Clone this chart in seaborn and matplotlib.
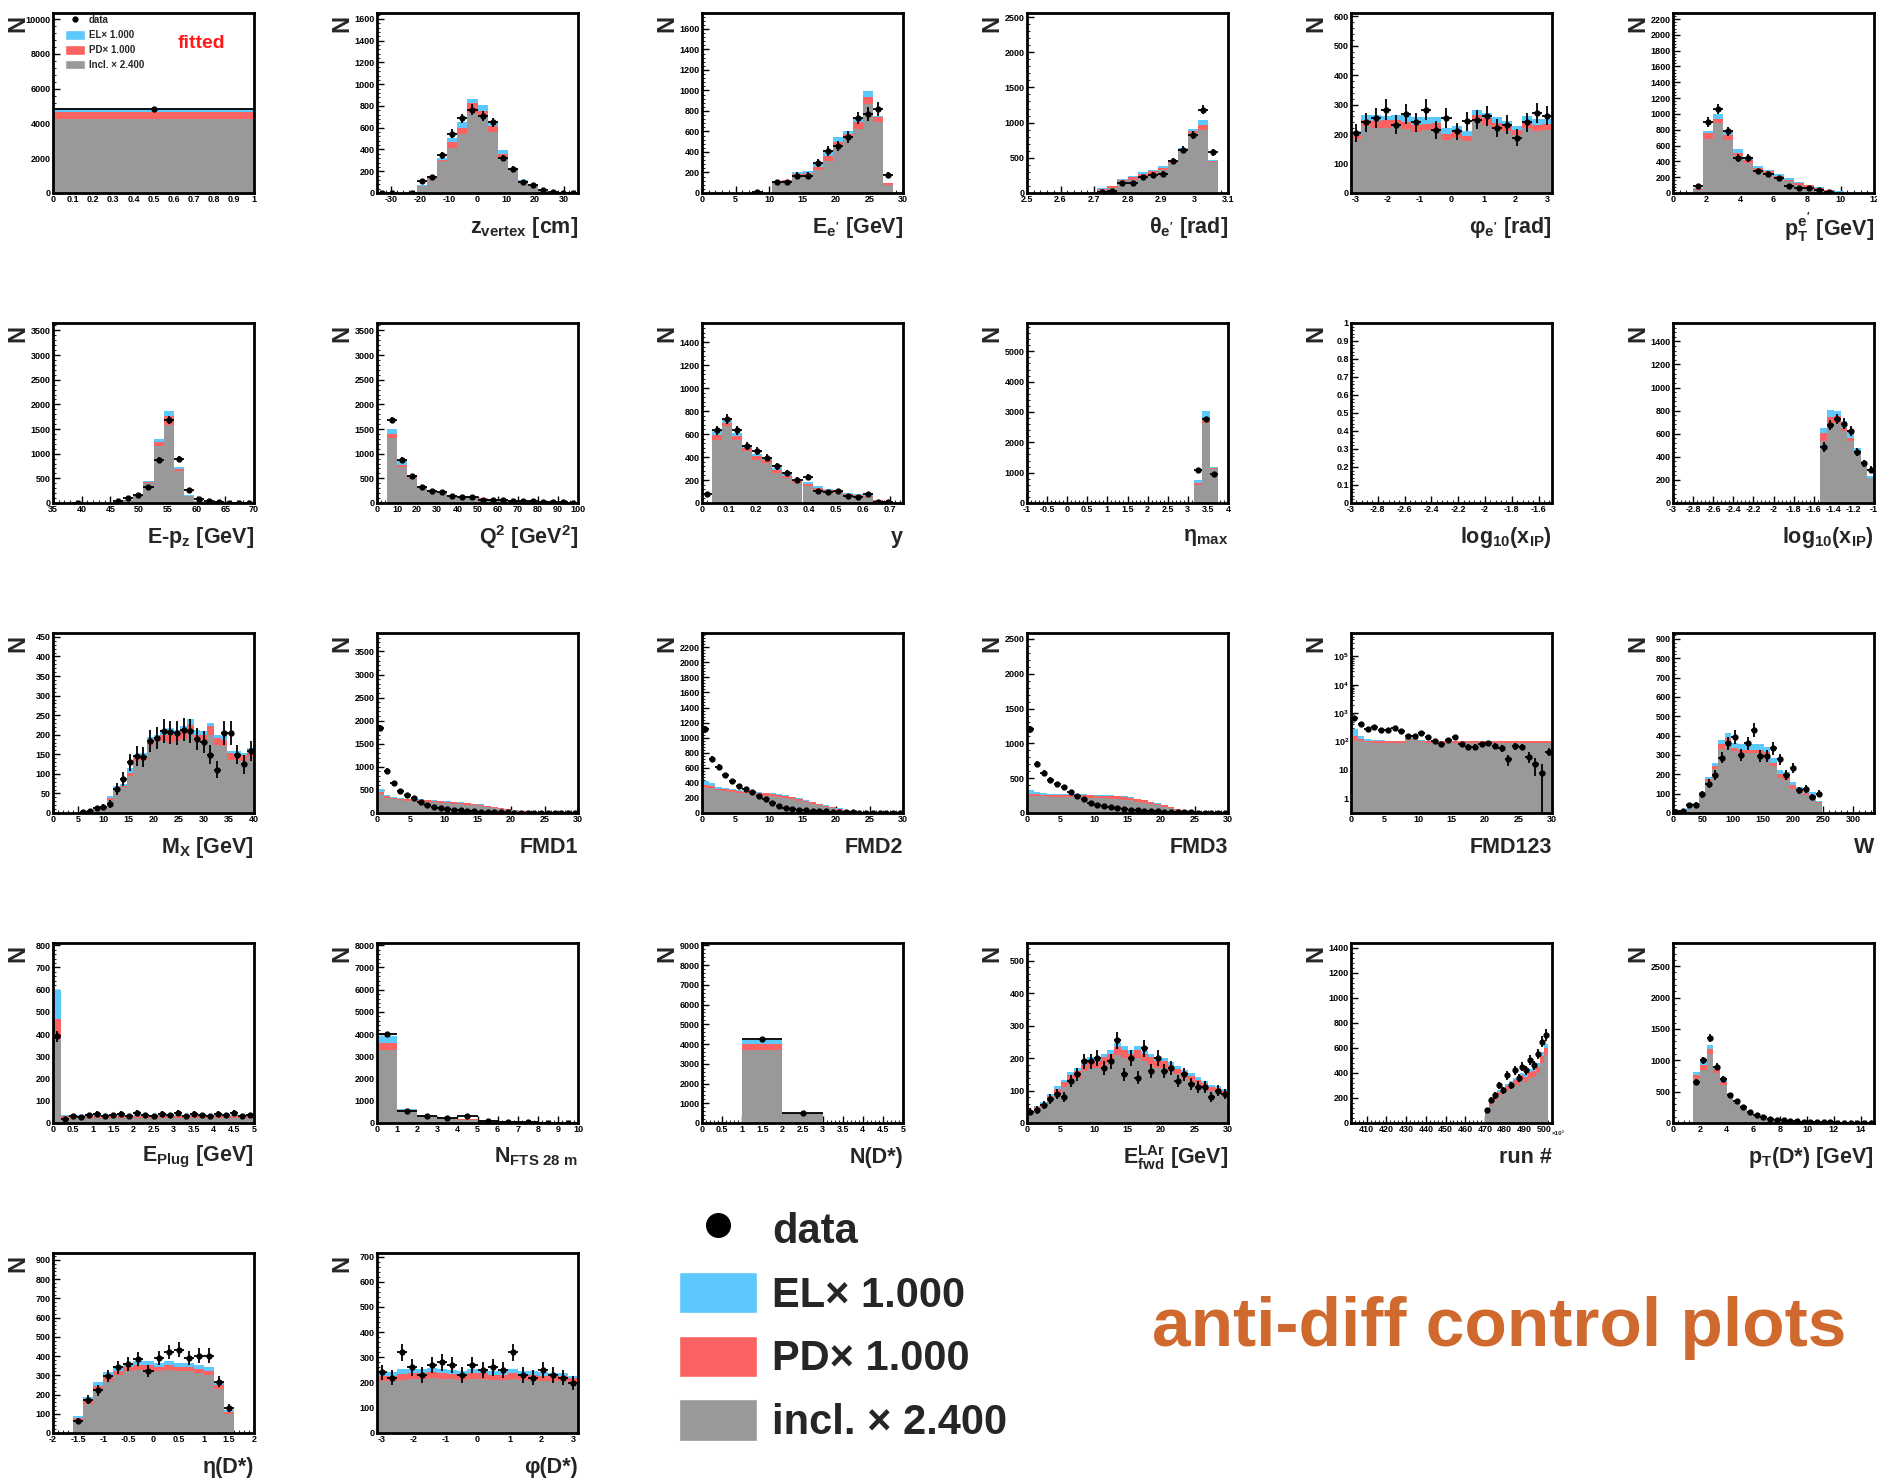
import numpy as np
import pandas as pd
import matplotlib
matplotlib.use("Agg")
import matplotlib.pyplot as plt
from matplotlib.ticker import MultipleLocator, AutoMinorLocator, FuncFormatter, LogLocator
from matplotlib.patches import Patch
from matplotlib.lines import Line2D
import seaborn as sns

# ---------------- data ----------------
# fitted normalisation (single bin)
fit_incl = [4250]
fit_pd = [390]
fit_el = [245]
fit_data = [4830]
fit_err = [70]

zvtx_incl = [0, 0, 0, 0, 60, 130, 292, 414, 543, 737, 706, 559, 322, 209, 107, 61, 25, 8, 2, 0]
zvtx_pd = [0, 0, 0, 0, 5, 5, 15, 53, 56, 86, 52, 55, 40, 12, 7, 5, 3, 1, 0, 0]
zvtx_el = [0, 0, 0, 0, 12, 5, 15, 39, 55, 43, 52, 46, 37, 9, 9, 11, 2, 1, 0, 0]
zvtx_data = [3, 2, 0, 2, 107, 147, 347, 546, 685, 767, 706, 651, 322, 221, 98, 71, 25, 6, 2, 1]
zvtx_err = [3, 2, 0, 2, 20, 22, 32, 40, 45, 48, 45, 42, 30, 25, 18, 15, 9, 4, 2, 2]

ee_incl = [0, 0, 0, 0, 0, 0, 0, 98, 114, 179, 185, 221, 315, 455, 536, 624, 871, 689, 78, 0]
ee_pd = [0, 0, 0, 0, 0, 0, 0, 6, 8, 10, 13, 32, 49, 42, 39, 65, 65, 52, 20, 0]
ee_el = [0, 0, 0, 0, 0, 0, 0, 10, 8, 13, 13, 33, 49, 46, 33, 42, 62, 13, 0, 0]
ee_data = [0, 0, 0, 0, 0, 5, 0, 104, 104, 169, 169, 293, 406, 455, 546, 731, 770, 819, 179, 0]
ee_err = [0, 0, 0, 0, 0, 5, 0, 25, 25, 32, 32, 40, 48, 50, 55, 62, 65, 65, 30, 0]

the_incl = [0, 0, 0, 0, 0, 0, 9, 38, 71, 166, 189, 237, 275, 322, 426, 592, 852, 900, 440, 0]
the_pd = [0, 0, 0, 0, 0, 0, 5, 24, 24, 23, 34, 38, 33, 33, 24, 24, 33, 71, 19, 0]
the_el = [0, 0, 0, 0, 0, 0, 2, 10, 9, 10, 14, 23, 23, 24, 24, 23, 24, 61, 15, 0]
the_data = [0, 0, 0, 0, 0, 0, 0, 14, 33, 142, 142, 223, 260, 275, 450, 616, 829, 1184, 582, 0]
the_err = [0, 0, 0, 0, 0, 0, 0, 10, 15, 30, 30, 35, 40, 40, 45, 50, 55, 65, 50, 0]

phie_incl = [183, 229, 221, 221, 226, 217, 207, 215, 217, 181, 187, 175, 243, 232, 217, 211, 198, 221, 209, 215]
phie_pd = [15, 20, 22, 28, 23, 23, 25, 20, 21, 19, 19, 17, 23, 23, 21, 21, 17, 22, 23, 20]
phie_el = [11, 17, 23, 14, 17, 26, 26, 23, 20, 21, 20, 17, 15, 17, 20, 11, 13, 17, 19, 16]
phie_data = [204, 240, 255, 283, 232, 269, 240, 283, 213, 255, 209, 243, 249, 263, 221, 232, 187, 240, 272, 263]
phie_err = [30, 32, 33, 35, 32, 34, 32, 35, 30, 33, 30, 32, 33, 34, 31, 32, 29, 32, 34, 33]

pte_incl = [0, 0, 40, 684, 886, 675, 464, 380, 287, 245, 198, 148, 105, 76, 51, 25, 13, 0, 0, 0]
pte_pd = [0, 0, 15, 76, 51, 64, 42, 42, 30, 29, 21, 21, 22, 21, 16, 9, 4, 0, 0, 0]
pte_el = [0, 0, 5, 29, 63, 29, 51, 34, 29, 21, 26, 21, 12, 8, 9, 8, 4, 0, 0, 0]
pte_data = [0, 0, 84, 895, 1063, 781, 443, 443, 274, 245, 190, 93, 63, 59, 34, 13, 0, 0, 0, 0]
pte_err = [0, 0, 20, 60, 65, 55, 45, 45, 35, 30, 30, 20, 15, 15, 12, 8, 0, 0, 0, 0]

epz_incl = [0, 0, 0, 0, 0, 0, 20, 54, 135, 406, 1149, 1589, 642, 135, 34, 10, 0, 0, 0, 0]
epz_pd = [0, 0, 0, 0, 0, 0, 3, 7, 14, 20, 81, 182, 48, 14, 4, 0, 0, 0, 0, 0]
epz_el = [0, 0, 0, 0, 0, 0, 2, 5, 6, 13, 68, 88, 40, 6, 2, 0, 0, 0, 0, 0]
epz_data = [0, 0, 3, 0, 0, 0, 34, 101, 169, 324, 865, 1690, 892, 270, 88, 34, 14, 3, 2, 2]
epz_err = [0, 0, 3, 0, 0, 0, 15, 25, 35, 40, 60, 80, 60, 35, 20, 15, 10, 3, 2, 2]

q2_incl = [0, 1318, 723, 507, 318, 237, 203, 155, 135, 115, 88, 74, 61, 54, 47, 40, 34, 27, 20, 15]
q2_pd = [0, 88, 54, 34, 14, 14, 10, 7, 7, 10, 7, 7, 6, 5, 5, 5, 4, 4, 3, 3]
q2_el = [0, 95, 81, 20, 14, 13, 10, 7, 7, 10, 6, 7, 6, 5, 5, 5, 4, 3, 3, 2]
q2_data = [0, 1690, 879, 541, 324, 250, 223, 149, 122, 115, 68, 68, 54, 34, 34, 40, 27, 20, 15, 10]
q2_err = [0, 60, 45, 35, 25, 20, 20, 15, 15, 15, 12, 12, 10, 10, 10, 10, 8, 8, 6, 5]

yv_incl = [0, 551, 667, 545, 450, 377, 348, 261, 218, 174, 151, 116, 102, 87, 67, 58, 49, 20, 0, 0]
yv_pd = [0, 44, 29, 35, 29, 29, 29, 29, 20, 15, 17, 15, 11, 12, 11, 12, 9, 5, 0, 0]
yv_el = [0, 29, 35, 29, 29, 20, 15, 15, 14, 8, 12, 14, 9, 8, 9, 8, 9, 4, 0, 0]
yv_data = [78, 632, 731, 632, 493, 450, 392, 319, 261, 203, 223, 102, 96, 102, 64, 52, 78, 6, 6, 0]
yv_err = [20, 40, 45, 40, 35, 35, 30, 30, 25, 25, 25, 18, 18, 18, 15, 12, 15, 5, 5, 0]

etamax_incl = [604, 2637, 1121]
etamax_pd = [55, 165, 33]
etamax_el = [88, 220, 33]
etamax_data = [1099, 2769, 967]
etamax_err = [40, 70, 40]

xip_incl = [534, 678, 693, 620, 534, 433, 318, 217]
xip_pd = [72, 67, 58, 30, 29, 14, 14, 0]
xip_el = [44, 58, 43, 57, 58, 29, 29, 14]
xip_data = [485, 673, 730, 687, 621, 439, 346, 289]
xip_err = [40, 45, 45, 45, 45, 35, 30, 30]

mx_incl = [0, 0, 0, 0, 0, 0, 7, 10, 34, 60, 66, 94, 132, 136, 175, 183, 183, 179, 183, 189,
           206, 183, 187, 200, 175, 170, 136, 136, 132, 145]
mx_pd = [0, 0, 0, 0, 0, 1, 1, 2, 4, 4, 4, 8, 9, 9, 12, 9, 17, 25, 17, 20,
         20, 17, 13, 22, 17, 17, 17, 13, 15, 8]
mx_el = [0, 0, 0, 0, 0, 0, 1, 1, 5, 4, 5, 13, 8, 8, 7, 8, 13, 13, 13, 13,
         15, 13, 9, 8, 8, 9, 5, 10, 6, 13]
mx_data = [0, 0, 0, 0, 3, 4, 13, 15, 23, 61, 87, 130, 145, 143, 183, 192, 209, 206, 204, 213,
           210, 189, 181, 149, 111, 204, 204, 149, 124, 158]
mx_err = [0, 0, 0, 0, 3, 3, 6, 7, 9, 15, 18, 22, 25, 25, 28, 28, 30, 30, 30, 30,
          30, 28, 28, 25, 22, 30, 30, 25, 24, 26]

fmd1_incl = [420, 330, 300, 280, 270, 260, 250, 240, 230, 220, 210, 200, 190, 180, 165,
             150, 130, 110, 90, 70, 55, 40, 30, 20, 12, 8, 5, 3, 2, 1]
fmd1_pd = [40, 30, 30, 30, 30, 30, 35, 35, 35, 35, 35, 35, 35, 35, 30,
           30, 25, 20, 18, 15, 12, 10, 8, 5, 3, 2, 1, 1, 0, 0]
fmd1_el = [60, 30, 15, 15, 12, 12, 12, 12, 10, 10, 10, 10, 10, 8, 8,
           8, 6, 6, 5, 4, 3, 3, 2, 2, 1, 1, 0, 0, 0, 0]
fmd1_data = [1850, 920, 640, 480, 400, 320, 240, 180, 140, 110, 90, 70, 55, 45, 35,
             30, 25, 20, 15, 12, 10, 8, 6, 5, 4, 3, 2, 2, 1, 1]
fmd1_err = [60, 45, 35, 30, 28, 25, 22, 18, 16, 14, 13, 11, 10, 9, 8,
            7, 7, 6, 5, 5, 4, 4, 3, 3, 2, 2, 2, 2, 1, 1]

fmd2_incl = [330, 330, 300, 290, 280, 270, 260, 250, 240, 230, 220, 210, 200, 180, 160,
             140, 120, 100, 80, 60, 45, 30, 20, 12, 8, 5, 3, 2, 1, 1]
fmd2_pd = [40, 30, 25, 25, 25, 25, 25, 25, 30, 30, 30, 30, 30, 30, 30,
           25, 25, 20, 18, 15, 12, 10, 8, 5, 3, 2, 1, 1, 0, 0]
fmd2_el = [60, 40, 20, 15, 15, 12, 12, 12, 10, 10, 10, 10, 10, 8, 8,
           8, 6, 6, 5, 4, 3, 3, 2, 2, 1, 1, 0, 0, 0, 0]
fmd2_data = [1110, 720, 610, 500, 420, 360, 320, 280, 230, 180, 130, 90, 65, 50, 40,
             35, 30, 25, 20, 15, 12, 10, 8, 6, 5, 4, 3, 2, 2, 1]
fmd2_err = [50, 40, 35, 30, 28, 26, 24, 22, 20, 18, 15, 12, 10, 9, 8,
            8, 7, 6, 5, 5, 4, 4, 3, 3, 2, 2, 2, 2, 1, 1]

fmd3_incl = [250, 250, 240, 230, 230, 230, 230, 230, 225, 220, 215, 210, 205, 200, 190,
             180, 165, 150, 130, 110, 90, 70, 50, 35, 20, 12, 6, 3, 1, 0]
fmd3_pd = [30, 25, 25, 25, 25, 30, 30, 30, 35, 35, 35, 40, 40, 40, 40,
           35, 35, 30, 28, 25, 20, 18, 12, 8, 5, 3, 2, 1, 0, 0]
fmd3_el = [50, 30, 20, 15, 15, 12, 12, 12, 10, 10, 10, 10, 10, 8, 8,
           8, 6, 6, 5, 4, 3, 3, 2, 2, 1, 1, 0, 0, 0, 0]
fmd3_data = [1200, 700, 580, 480, 420, 380, 300, 240, 200, 150, 120, 100, 80, 65, 55,
             45, 40, 35, 30, 25, 20, 15, 12, 10, 8, 6, 5, 4, 3, 2]
fmd3_err = [55, 40, 35, 30, 28, 27, 24, 22, 20, 17, 15, 14, 12, 11, 10,
            9, 8, 8, 7, 6, 6, 5, 4, 4, 4, 3, 3, 2, 2, 2]

fmd123_incl = [110, 100, 95, 92, 92, 90, 90, 90, 120, 115, 95, 92, 92, 90, 90,
               90, 88, 88, 88, 88, 88, 86, 86, 86, 86, 86, 86, 86, 86, 86]
fmd123_pd = [40, 20, 12, 12, 10, 10, 10, 10, 10, 10, 10, 10, 10, 10, 10,
             10, 12, 12, 12, 14, 15, 15, 15, 16, 16, 16, 16, 16, 17, 17]
fmd123_el = [120, 40, 12, 10, 8, 6, 6, 5, 5, 5, 5, 5, 5, 5, 5,
             4, 4, 4, 4, 4, 4, 4, 4, 4, 4, 4, 4, 4, 4, 4]
fmd123_data = [700, 410, 270, 330, 250, 250, 290, 225, 150, 160, 200, 140, 105, 80, 110,
               145, 80, 65, 65, 80, 85, 70, 58, 24, 68, 65, 29, 16, 8, 44]
fmd123_err = [60, 45, 35, 38, 33, 33, 35, 30, 25, 25, 30, 25, 20, 18, 22,
              25, 18, 16, 16, 18, 18, 17, 15, 10, 17, 16, 12, 10, 8, 14]

wv_incl = [0, 0, 20, 40, 95, 165, 230, 330, 363, 320, 308, 308, 310, 308, 299, 242,
           183, 173, 126, 109, 92, 83, 50, 0, 0, 0, 0, 0, 0, 0, 0]
wv_pd = [0, 0, 3, 5, 8, 12, 15, 25, 26, 17, 17, 17, 17, 17, 18, 18,
         18, 17, 18, 12, 12, 9, 5, 0, 0, 0, 0, 0, 0, 0, 0]
wv_el = [0, 0, 5, 5, 7, 10, 12, 25, 23, 26, 31, 31, 29, 31, 26, 22,
         20, 23, 17, 14, 14, 17, 5, 0, 0, 0, 0, 0, 0, 0, 0]
wv_data = [5, 10, 40, 43, 97, 152, 196, 287, 360, 394, 299, 360, 429, 294, 294, 334,
           277, 196, 234, 118, 126, 83, 100, 0, 0, 0, 0, 0, 0, 0, 0]
wv_err = [4, 6, 12, 12, 18, 22, 25, 30, 34, 35, 30, 34, 37, 30, 30, 32,
          29, 25, 27, 19, 20, 16, 18, 0, 0, 0, 0, 0, 0, 0, 0]

eplug_incl = [380, 22, 22, 22, 22, 22, 22, 22, 22, 22, 22, 22, 22, 22, 22, 22, 22, 22, 22, 22, 22, 22, 22, 22, 22]
eplug_pd = [90, 8, 8, 8, 8, 8, 8, 8, 8, 8, 8, 8, 8, 8, 8, 8, 8, 8, 8, 8, 8, 8, 8, 8, 8]
eplug_el = [130, 5, 5, 5, 5, 5, 5, 5, 5, 5, 5, 5, 5, 5, 5, 5, 5, 5, 5, 5, 5, 5, 5, 5, 5]
eplug_data = [390, 20, 30, 25, 35, 40, 30, 35, 40, 30, 45, 35, 30, 40, 35, 45, 30, 40, 35, 30, 40, 35, 45, 30, 35]
eplug_err = [25, 9, 11, 10, 12, 13, 11, 12, 13, 11, 14, 12, 11, 13, 12, 14, 11, 13, 12, 11, 13, 12, 14, 11, 12]

nfts_incl = [3300, 500, 280, 200, 150, 100, 60, 40, 20, 10]
nfts_pd = [300, 100, 40, 30, 20, 15, 10, 5, 3, 2]
nfts_el = [300, 30, 20, 15, 10, 5, 3, 2, 1, 0]
nfts_data = [4000, 520, 300, 230, 300, 100, 60, 40, 20, 10]
nfts_err = [70, 25, 18, 15, 18, 10, 8, 6, 4, 3]

ndst_incl = [0, 3720, 480, 0, 0]
ndst_pd = [0, 280, 30, 0, 0]
ndst_el = [0, 200, 20, 0, 0]
ndst_data = [0, 4250, 520, 0, 0]
ndst_err = [0, 70, 25, 0, 0]

elar_incl = [30, 40, 50, 70, 90, 110, 130, 140, 160, 170, 170, 180, 190, 210, 200,
             190, 200, 190, 180, 170, 170, 160, 150, 140, 130, 120, 110, 100, 95, 90]
elar_pd = [5, 8, 10, 12, 15, 15, 18, 20, 20, 22, 22, 22, 24, 25, 25,
           24, 24, 22, 22, 20, 20, 18, 18, 16, 15, 14, 13, 12, 12, 10]
elar_el = [3, 4, 5, 6, 8, 8, 10, 10, 10, 12, 12, 12, 12, 12, 12,
           12, 12, 11, 11, 10, 10, 9, 9, 8, 8, 7, 7, 6, 6, 5]
elar_data = [35, 40, 55, 75, 90, 80, 130, 150, 190, 190, 200, 170, 190, 255, 150,
             200, 140, 230, 160, 200, 160, 170, 130, 150, 120, 110, 110, 80, 100, 90]
elar_err = [10, 11, 13, 15, 16, 15, 19, 21, 23, 23, 24, 22, 23, 27, 21,
            24, 20, 26, 22, 24, 22, 22, 19, 21, 19, 18, 18, 15, 17, 16]

run_incl = [70, 140, 180, 220, 240, 260, 280, 300, 300, 340, 330, 360, 370, 400, 480, 540]
run_pd = [10, 20, 25, 30, 35, 35, 35, 40, 40, 40, 40, 45, 45, 50, 55, 60]
run_el = [5, 10, 12, 15, 15, 18, 18, 20, 20, 22, 22, 25, 25, 28, 30, 35]
run_data = [100, 180, 220, 300, 260, 380, 300, 420, 360, 450, 420, 500, 460, 550, 650, 700]
run_err = [18, 24, 27, 31, 29, 35, 31, 37, 34, 38, 37, 40, 38, 42, 46, 48]

ptd_incl = [700, 850, 1100, 800, 600, 420, 300, 220, 160, 110, 80, 60, 45, 35, 28,
            22, 17, 13, 10, 8, 6, 5, 4, 3, 2, 1, 1]
ptd_pd = [60, 80, 80, 60, 50, 35, 25, 20, 15, 10, 8, 6, 5, 4, 3,
          2, 2, 1, 1, 1, 0, 0, 0, 0, 0, 0, 0]
ptd_el = [50, 70, 70, 50, 40, 30, 20, 15, 12, 8, 6, 5, 4, 3, 2,
          2, 1, 1, 1, 0, 0, 0, 0, 0, 0, 0, 0]
ptd_data = [650, 1000, 1350, 900, 700, 450, 350, 250, 170, 120, 90, 70, 50, 40, 30,
            25, 20, 15, 12, 10, 8, 6, 5, 4, 3, 2, 1]
ptd_err = [45, 55, 65, 52, 45, 36, 32, 27, 22, 18, 16, 14, 12, 10, 9,
           8, 7, 6, 5, 5, 4, 4, 3, 3, 2, 2, 1]

etad_incl = [70, 150, 220, 270, 300, 320, 330, 330, 320, 330, 320, 320, 310, 300, 230, 100]
etad_pd = [10, 20, 25, 25, 25, 25, 25, 25, 25, 25, 25, 25, 25, 25, 20, 10]
etad_el = [8, 15, 20, 20, 20, 20, 20, 20, 20, 20, 20, 20, 20, 20, 15, 8]
etad_data = [62, 174, 223, 298, 341, 360, 384, 322, 391, 422, 434, 391, 403, 403, 267, 130]
etad_err = [15, 25, 28, 32, 34, 35, 36, 33, 36, 38, 38, 36, 37, 37, 30, 22]

phid_incl = [205, 205, 210, 215, 215, 220, 215, 215, 210, 215, 215, 210, 210, 215, 210, 210, 205, 205, 205, 200]
phid_pd = [20, 22, 25, 22, 22, 22, 22, 20, 20, 22, 22, 20, 20, 22, 22, 20, 20, 20, 20, 18]
phid_el = [15, 15, 18, 15, 15, 15, 15, 15, 15, 15, 15, 15, 15, 15, 15, 15, 15, 12, 12, 10]
phid_data = [240, 220, 320, 260, 230, 270, 280, 270, 230, 270, 250, 260, 250, 320, 230, 220, 250, 230, 220, 200]
phid_err = [30, 29, 35, 32, 30, 32, 33, 32, 30, 32, 31, 32, 31, 35, 30, 29, 31, 30, 29, 28]

# ---------------- style ----------------
C_EL = "#5cc8fb"
C_PD = "#fb6262"
C_INCL = "#999999"

sns.set_style("ticks")
plt.rcParams["font.family"] = ["Liberation Sans", "DejaVu Sans"]
plt.rcParams["font.weight"] = "bold"
plt.rcParams["mathtext.fontset"] = "custom"
plt.rcParams["mathtext.rm"] = "Liberation Sans:bold"
plt.rcParams["mathtext.it"] = "Liberation Sans:bold"
plt.rcParams["mathtext.bf"] = "Liberation Sans:bold"

fig = plt.figure(figsize=(18.77, 14.84), dpi=100)
W, H = 1877, 1484
col_left = [53, 377, 702, 1027, 1351, 1673]
row_top = [13, 323, 633, 943, 1253]
AW, AH = 201, 180

PI = np.pi
# (name, row, col, lo, bin width, xlim, ylim, x major, y major, label, log)
panels = [
    ("fit", 0, 0, 0, 1, (0, 1), (0, 10350), 0.1, 2000, "", False),
    ("zvtx", 0, 1, -35, 3.5, (-35, 35), (0, 1655), 10, 200, "z$_{vertex}$ [cm]", False),
    ("ee", 0, 2, 0, 1.5, (0, 30), (0, 1756), 5, 200, "E$_{e'}$ [GeV]", False),
    ("the", 0, 3, 2.5, 0.03, (2.5, 3.1), (0, 2557), 0.1, 500, "θ$_{e'}$ [rad]", False),
    ("phie", 0, 4, -PI, 2 * PI / 20, (-PI, PI), (0, 611), 1, 100, "φ$_{e'}$ [rad]", False),
    ("pte", 0, 5, 0, 0.6, (0, 12), (0, 2276), 2, 200, "p$_T^{e'}$ [GeV]", False),
    ("epz", 1, 0, 35, 1.75, (35, 70), (0, 3650), 5, 500, "E-p$_z$ [GeV]", False),
    ("q2", 1, 1, 0, 5, (0, 100), (0, 3650), 10, 500, "Q$^2$ [GeV$^2$]", False),
    ("yv", 1, 2, 0, 0.0375, (0, 0.75), (0, 1566), 0.1, 200, "y", False),
    ("etamax", 1, 3, 3.15, 0.2, (-1, 4), (0, 5934), 0.5, 1000, "η$_{max}$", False),
    (None, 1, 4, 0, 1, (-3, -1.5), (0, 1), 0.2, 0.1, "log$_{10}$(x$_{IP}$)", False),
    ("xip", 1, 5, -1.5333, 0.06667, (-3, -1), (0, 1559), 0.2, 200, "log$_{10}$(x$_{IP}$)", False),
    ("mx", 2, 0, 0, 40 / 30, (0, 40), (0, 460), 5, 50, "M$_X$ [GeV]", False),
    ("fmd1", 2, 1, 0, 1, (0, 30), (0, 3900), 5, 500, "FMD1", False),
    ("fmd2", 2, 2, 0, 1, (0, 30), (0, 2390), 5, 200, "FMD2", False),
    ("fmd3", 2, 3, 0, 1, (0, 30), (0, 2585), 5, 500, "FMD3", False),
    ("fmd123", 2, 4, 0, 1, (0, 30), (0.3, 6.7e5), 5, None, "FMD123", True),
    ("wv", 2, 5, 0, 10.8, (0, 335), (0, 931), 50, 100, "W", False),
    ("eplug", 3, 0, 0, 0.2, (0, 5), (0, 810), 0.5, 100, "E$_{Plug}$ [GeV]", False),
    ("nfts", 3, 1, 0, 1, (0, 10), (0, 8100), 1, 1000, "N$_{FTS\\ 28\\ m}$", False),
    ("ndst", 3, 2, 0, 1, (0, 5), (0, 9120), 0.5, 1000, "N(D*)", False),
    ("elar", 3, 3, 0, 1, (0, 30), (0, 555), 5, 100, "E$_{fwd}^{LAr}$ [GeV]", False),
    ("run", 3, 4, 470, 2, (402, 504), (0, 1438), 10, 200, "run #", False),
    ("ptd", 3, 5, 1.5, 0.5, (0, 15), (0, 2870), 2, 500, "p$_T$(D*) [GeV]", False),
    ("etad", 4, 0, -1.6, 0.2, (-2, 2), (0, 936), 0.5, 100, "η(D*)", False),
    ("phid", 4, 1, -PI, 2 * PI / 20, (-PI, PI), (0, 714), 1, 100, "φ(D*)", False),
]

series = {k: {p: globals()[f"{k}_{p}"] for p in ("incl", "pd", "el", "data", "err")}
          for k in ["fit", "zvtx", "ee", "the", "phie", "pte", "epz", "q2", "yv", "etamax",
                    "xip", "mx", "fmd1", "fmd2", "fmd3", "fmd123", "wv", "eplug", "nfts",
                    "ndst", "elar", "run", "ptd", "etad", "phid"]}


def tick_fmt(v, pos):
    if abs(v) < 1e-9:
        return "0"
    return f"{round(v, 6):g}"


def log_fmt(v, pos):
    e = int(round(np.log10(v)))
    if e == 0:
        return "1"
    if e == 1:
        return "10"
    return f"$10^{{{e}}}$"


for name, r, c, lo, bw, xlim, ylim, xmaj, ymaj, label, log in panels:
    rect = [col_left[c] / W, 1 - (row_top[r] + AH) / H, AW / W, AH / H]
    ax = fig.add_axes(rect)

    if name is not None:
        s = series[name]
        n = len(s["incl"])
        edges = [lo + bw * i for i in range(n + 1)]
        centers = lo + bw * (np.arange(n) + 0.5)
        frame = pd.DataFrame({
            "x": np.tile(centers, 3),
            "w": np.concatenate([s["el"], s["pd"], s["incl"]]).astype(float),
            "comp": ["EL"] * n + ["PD"] * n + ["incl"] * n,
        })
        sns.histplot(data=frame, x="x", weights="w", hue="comp",
                     hue_order=["EL", "PD", "incl"], multiple="stack", bins=edges,
                     palette={"EL": C_EL, "PD": C_PD, "incl": C_INCL},
                     alpha=1, linewidth=0, legend=False, ax=ax)
        d = np.array(s["data"], float)
        e = np.array(s["err"], float)
        m = d > 0
        ax.errorbar(centers[m], d[m], xerr=bw / 2, yerr=e[m], fmt="o", color="black",
                    ms=3.5, elinewidth=1.3, capsize=0, zorder=5)

    ax.set_xlabel("")
    ax.set_ylabel("")
    if log:
        ax.set_yscale("log")
        ax.yaxis.set_major_locator(LogLocator(base=10, numticks=10))
        ax.yaxis.set_minor_locator(LogLocator(base=10, subs=np.arange(2, 10), numticks=10))
        ax.yaxis.set_major_formatter(FuncFormatter(log_fmt))
        ax.yaxis.set_minor_formatter(FuncFormatter(lambda v, p: ""))
    else:
        ax.yaxis.set_major_locator(MultipleLocator(ymaj))
        ax.yaxis.set_minor_locator(AutoMinorLocator(5))
        ax.yaxis.set_major_formatter(FuncFormatter(tick_fmt))
    ax.xaxis.set_major_locator(MultipleLocator(xmaj))
    ax.xaxis.set_minor_locator(AutoMinorLocator(5))
    ax.xaxis.set_major_formatter(FuncFormatter(tick_fmt))
    ax.set_xlim(*xlim)
    ax.set_ylim(*ylim)

    ax.tick_params(which="major", direction="in", length=5, width=1, labelsize=6.5,
                   pad=1.5, top=False, right=False, colors="black")
    ax.tick_params(which="minor", direction="in", length=2.5, width=0.8,
                   top=False, right=False)
    for lab in ax.get_xticklabels() + ax.get_yticklabels():
        lab.set_fontweight("bold")
    for sp in ax.spines.values():
        sp.set_visible(True)
        sp.set_linewidth(2)
        sp.set_color("black")

    ax.text(-0.175, 0.99, "N", rotation=90, ha="center", va="top",
            fontsize=17, fontweight="bold", transform=ax.transAxes)
    if label:
        ax.text(1.0, -0.19, label, ha="right", va="center", fontsize=15.5,
                fontweight="bold", transform=ax.transAxes)

    if name == "run":
        ax.text(1.0, -0.045, "×10³", ha="left", va="top", fontsize=4.5,
                transform=ax.transAxes)

    if name == "fit":
        small = [Line2D([], [], marker="o", ls="none", color="black", ms=3.5),
                 Patch(facecolor=C_EL), Patch(facecolor=C_PD), Patch(facecolor=C_INCL)]
        ax.legend(small, ["data", "EL× 1.000", "PD× 1.000", "Incl. × 2.400"],
                  loc="upper left", bbox_to_anchor=(0.05, 1.0), frameon=False,
                  fontsize=7, handlelength=2.0, handleheight=1.1, labelspacing=0.5,
                  borderpad=0.25, borderaxespad=0, handletextpad=0.4)
        ax.text(0.74, 0.83, "fitted", color="#ff1a1a", fontsize=14, fontweight="bold",
                ha="center", va="center", transform=ax.transAxes)

# big legend
big = [Line2D([], [], marker="o", ls="none", color="black", ms=17),
       Patch(facecolor=C_EL), Patch(facecolor=C_PD), Patch(facecolor=C_INCL)]
fig.legend(big, ["data", "EL× 1.000", "PD× 1.000", "incl. × 2.400"],
           loc="upper left", bbox_to_anchor=(679 / W, 1 - 1208 / H), frameon=False,
           fontsize=30, handlelength=1.87, handleheight=1.15, labelspacing=0.48,
           borderpad=0, borderaxespad=0, handletextpad=0.36)

fig.text(1152 / W, 1 - 1328 / H, "anti-diff control plots", ha="left", va="center",
         fontsize=50, fontweight="bold", color="#d0692d")

fig.savefig("out.png", dpi=100)
